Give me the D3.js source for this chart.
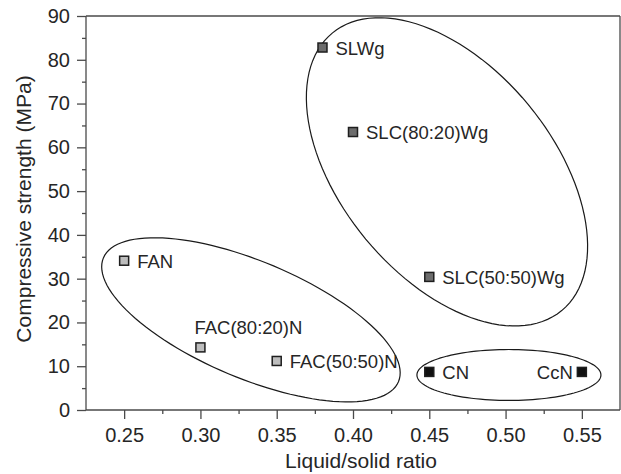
<!DOCTYPE html>
<html>
<head>
<meta charset="utf-8">
<script src="https://cdnjs.cloudflare.com/ajax/libs/d3/7.8.5/d3.min.js"></script>
<style>
  body { margin: 0; background: #fff; }
  svg { display: block; }
  text { font-family: "Liberation Sans", Arial, sans-serif; fill: #262626; }
  .axis path, .axis line { stroke: #4a4a4a; stroke-width: 1.3; }
  .axis text { font-size: 20px; fill: #262626; }
</style>
</head>
<body>
<div id="chart"></div>
<script>
// samples
var names    = ["FAN", "FAC(80:20)N", "FAC(50:50)N", "SLWg", "SLC(80:20)Wg", "SLC(50:50)Wg", "CN", "CcN"];
var ratio    = [0.25, 0.30, 0.35, 0.38, 0.40, 0.45, 0.45, 0.55];
var strength = [34.1, 14.3, 11.2, 82.8, 63.5, 30.4, 8.7, 8.7];
var family   = ["FA", "FA", "FA", "SL", "SL", "SL", "C", "C"];

// axis ticks
var xTicks = [0.25, 0.30, 0.35, 0.40, 0.45, 0.50, 0.55];
var yTicks = [0, 10, 20, 30, 40, 50, 60, 70, 80, 90];

// grouping ellipses, in data units: centre + two conjugate half axes
var groupName = ["FA", "SL", "C"];
var groupCx   = [0.3331, 0.4616, 0.5022];
var groupCy   = [20.6, 54.4, 8.0];
var groupU    = [[0.0967, -14.14], [0.0752, -31.69], [0.0603, 0]];
var groupV    = [[-0.0148, -12.31], [-0.0533, -15.35], [0, 5.82]];

var W = 621, H = 474;
var margin = {top: 16, right: 1, bottom: 64, left: 86};

var x = d3.scaleLinear().domain([0.225, 0.575]).range([margin.left, W - margin.right]);
var y = d3.scaleLinear().domain([0, 90]).range([H - margin.bottom, margin.top]);

var fills = {FA: "#bdbdbd", SL: "#6c6c6c", C: "#111"};

var svg = d3.select("#chart").append("svg")
    .attr("width", W)
    .attr("height", H);

// frame top + right
svg.append("line")
    .attr("x1", x(0.225)).attr("x2", x(0.575))
    .attr("y1", y(90)).attr("y2", y(90))
    .attr("stroke", "#4a4a4a").attr("stroke-width", 1.3);
svg.append("line")
    .attr("x1", x(0.575)).attr("x2", x(0.575))
    .attr("y1", y(90)).attr("y2", y(0))
    .attr("stroke", "#4a4a4a").attr("stroke-width", 1.3);

// minor ticks
svg.append("g")
    .attr("class", "axis")
    .attr("transform", "translate(0," + y(0) + ")")
    .call(d3.axisBottom(x).tickValues(xTicks.map(function(d){ return d + 0.025; }).filter(function(d){ return d < 0.575; }))
        .tickSize(4).tickSizeOuter(0).tickFormat(""))
    .select(".domain").remove();
svg.insert("g")
    .attr("class", "axis")
    .attr("transform", "translate(" + x(0.225) + ",0)")
    .call(d3.axisLeft(y).tickValues(yTicks.slice(0, -1).map(function(d){ return d + 5; }))
        .tickSize(4).tickSizeOuter(0).tickFormat(""))
    .select(".domain").remove();

// major axes
var xAxis = svg.append("g")
    .attr("class", "axis")
    .attr("transform", "translate(0," + y(0) + ")")
    .call(d3.axisBottom(x).tickValues(xTicks).tickSize(9).tickSizeOuter(0).tickPadding(9)
        .tickFormat(d3.format(".2f")));
xAxis.select(".domain").attr("d", "M" + x(0.225) + ",0H" + x(0.575));

var yAxis = svg.append("g")
    .attr("class", "axis")
    .attr("transform", "translate(" + x(0.225) + ",0)")
    .call(d3.axisLeft(y).tickValues(yTicks).tickSize(9).tickSizeOuter(0).tickPadding(7));
yAxis.select(".domain").attr("d", "M0," + y(0) + "V" + y(90));

// axis titles
svg.append("text")
    .attr("x", 361)
    .attr("y", 468)
    .attr("text-anchor", "middle")
    .style("font-size", "21px")
    .text("Liquid/solid ratio");

svg.append("text")
    .attr("transform", "translate(31,209) rotate(-90)")
    .attr("text-anchor", "middle")
    .style("font-size", "21px")
    .text("Compressive strength (MPa)");

// ellipses
var ring = d3.range(0, 121).map(function(i){ return i / 120 * 2 * Math.PI; });
var ellipseLine = d3.line()
    .x(function(d){ return x(d[0]); })
    .y(function(d){ return y(d[1]); })
    .curve(d3.curveLinearClosed);

groupName.forEach(function(g, i){
    var pts = ring.map(function(t){
        return [groupCx[i] + Math.cos(t) * groupU[i][0] + Math.sin(t) * groupV[i][0],
                groupCy[i] + Math.cos(t) * groupU[i][1] + Math.sin(t) * groupV[i][1]];
    });
    svg.append("path")
        .attr("d", ellipseLine(pts))
        .attr("fill", "none")
        .attr("stroke", "#1a1a1a")
        .attr("stroke-width", 1.2);
});

// markers
var pts = names.map(function(n, i){ return {name: n, x: ratio[i], y: strength[i], fam: family[i]}; });

svg.selectAll(".pt")
    .data(pts)
    .enter().append("rect")
    .attr("class", "pt")
    .attr("x", function(d){ return x(d.x) - 4.5; })
    .attr("y", function(d){ return y(d.y) - 4.5; })
    .attr("width", 9)
    .attr("height", 9)
    .attr("fill", function(d){ return fills[d.fam]; })
    .attr("stroke", "#1e1e1e")
    .attr("stroke-width", 1.5);

// labels: most sit to the right, a couple are placed differently
var place = {"FAC(80:20)N": "above", "CcN": "left"};

svg.selectAll(".lbl")
    .data(pts)
    .enter().append("text")
    .attr("class", "lbl")
    .style("font-size", "18.5px")
    .attr("text-anchor", function(d){ return place[d.name] == "left" ? "end" : "start"; })
    .attr("x", function(d){
        if (place[d.name] == "above") return x(d.x) - 6;
        if (place[d.name] == "left") return x(d.x) - 9;
        return x(d.x) + 13;
    })
    .attr("y", function(d){
        if (place[d.name] == "above") return y(d.y) - 13;
        return y(d.y) + 7;
    })
    .text(function(d){ return d.name; });
</script>
</body>
</html>
